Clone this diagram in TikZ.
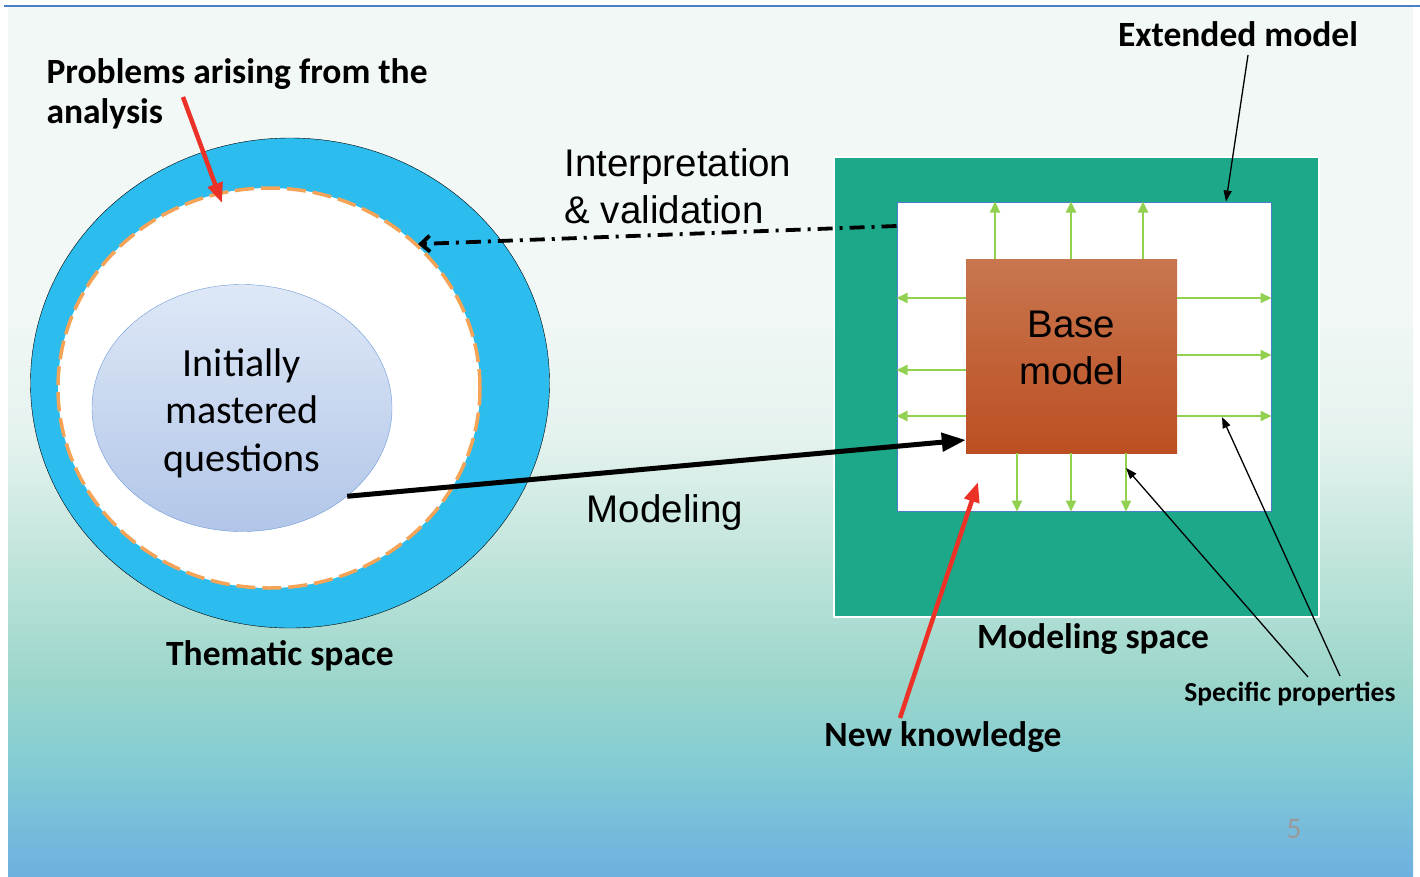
\documentclass[tikz,border=0pt]{standalone}
\usepackage{fontspec}
\setmainfont{Carlito}
\newfontfamily\arialfont{Liberation Sans}
\usetikzlibrary{arrows.meta,shapes.geometric,positioning}
\definecolor{bgwhite}{HTML}{F2F8F6}
\definecolor{bgfog}{HTML}{E4F2EE}
\definecolor{bgpale}{HTML}{B4E0D6}
\definecolor{bgmint}{HTML}{9CD6CB}
\definecolor{bgaqua}{HTML}{85CDD3}
\definecolor{bgblue}{HTML}{6EB0E0}
\definecolor{topline}{HTML}{4A7FC8}
\definecolor{ringblue}{HTML}{2CBDEE}
\definecolor{dashorange}{HTML}{F5A356}
\definecolor{qtop}{HTML}{DEE8F7}
\definecolor{qbottom}{HTML}{B2C6E8}
\definecolor{qborder}{HTML}{6C9AD8}
\definecolor{modelteal}{HTML}{1DA88A}
\definecolor{innerblue}{HTML}{4A7EC5}
\definecolor{basetop}{HTML}{C8764F}
\definecolor{basebot}{HTML}{BC4F22}
\definecolor{growgreen}{HTML}{92D050}
\definecolor{arrowred}{HTML}{EC3127}
\definecolor{pagegray}{HTML}{9A9A9A}
\pgfdeclareverticalshading{slidebg}{100bp}{color(0bp)=(bgblue); color(25bp)=(bgblue); color(31.7bp)=(bgaqua); color(36.3bp)=(bgmint); color(41bp)=(bgpale); color(50bp)=(bgfog); color(58bp)=(bgwhite); color(75bp)=(bgwhite); color(100bp)=(bgwhite)}
\begin{document}
\begin{tikzpicture}[x=1pt, y=-1pt, line join=round,
  lbl/.style={font=\bfseries\fontsize{35.5}{40}\selectfont, align=center},
  arial/.style={font=\arialfont\fontsize{38.5}{47}\selectfont, align=center},
  redarrow/.style={draw=arrowred, line width=4.5, -{Triangle[length=20pt,width=15pt]}},
  thinarrow/.style={line width=1.3, -{Triangle[length=11pt,width=8pt]}},
  growarrow/.style={draw=growgreen, line width=2, -{Triangle[length=11pt,width=10pt]}}]
\useasboundingbox (0,0) rectangle (1420,876);
\shade[shading=slidebg] (8,7) rectangle (1413,876);
\draw[topline, line width=2.5] (4,6) -- (1420,6);
% thematic space
\node[ellipse, draw, fill=ringblue, minimum width=519, minimum height=490, inner sep=0] (thematic) at (290,383) {};
\node[ellipse, draw=dashorange, fill=white, line width=3.5, dash pattern=on 19pt off 7pt, minimum width=422, minimum height=400, inner sep=0] (problems) at (269,388) {};
\node[ellipse, draw=qborder, top color=qtop, bottom color=qbottom, minimum width=300, minimum height=247, inner sep=0] (questions) at (242,408) {};
\node[font=\fontsize{40}{47.5}\selectfont, align=center] (questext) at (242,413) {Initially\\mastered\\questions};
% modeling space
\node[draw=white, line width=2, fill=modelteal, minimum width=485, minimum height=460, inner sep=0] (extended) at (1076.5,387) {};
\node[draw=innerblue, line width=1, fill=white, minimum width=374, minimum height=309, inner sep=0] (inner) at (1084,356.5) {};
\node[top color=basetop, bottom color=basebot, minimum width=211, minimum height=194, inner sep=0] (base) at (1071.5,356) {};
\node[arial] (basetext) at (1071.5,348) {Base\\model};
\foreach \x in {995,1071,1143} \draw[growarrow] (\x,0 |- base.north) -- (\x,0 |- inner.north);
\foreach \x in {1017,1071,1126} \draw[growarrow] (\x,0 |- base.south) -- (\x,0 |- inner.south);
\foreach \y in {298,370,416} \draw[growarrow] (base.west |- 0,\y) -- (inner.west |- 0,\y);
\foreach \y in {298,355,416} \draw[growarrow] (base.east |- 0,\y) -- (inner.east |- 0,\y);
% labels
\node[lbl, align=left, anchor=west] (problab) at (43,94) {Problems arising from the\\analysis};
\node[lbl] (extlab) at (1238,34) {Extended model};
\node[lbl] (themlab) at (280,656) {Thematic space};
\node[lbl] (spacelab) at (1093,639) {Modeling space};
\node[lbl] (newlab) at (943,737) {New knowledge};
\node[font=\bfseries\fontsize{27.5}{32}\selectfont] (speclab) at (1290,694) {Specific properties};
\node[arial, align=left, anchor=west] (interplab) at (561,186) {Interpretation\\\& validation};
\node[arial] (modlab) at (665,513) {Modeling};
\node[text=pagegray, font=\fontsize{30}{34}\selectfont] (pagenum) at (1294,829) {5};
% connectors
\coordinate (probtail) at (183,97); \coordinate (probtip) at (222,203);
\coordinate (newtail) at (900,718); \coordinate (newtip) at (978,482);
\coordinate (exttail) at (1248,55);
\coordinate (spectail1) at (1308,677); \coordinate (spectail2) at (1340,676);
\draw[redarrow] (probtail) -- (probtip);
\draw[redarrow] (newtail) -- (newtip);
\draw[thinarrow] (exttail) -- (1226,0 |- inner.north);
\draw[thinarrow] (spectail1) -- (1126,468);
\draw[thinarrow] (spectail2) -- (1222,417);
\draw[line width=5, -{Triangle[length=24pt,width=18pt]}] (questions.-40) -- (base.west |- 0,440);
\draw[line width=3.8, dash pattern=on 15pt off 7pt on 3pt off 7pt, -{Straight Barb[length=9pt,width=16pt]}] (inner.west |- 0,226) -- (problems.44);
\end{tikzpicture}
\end{document}
